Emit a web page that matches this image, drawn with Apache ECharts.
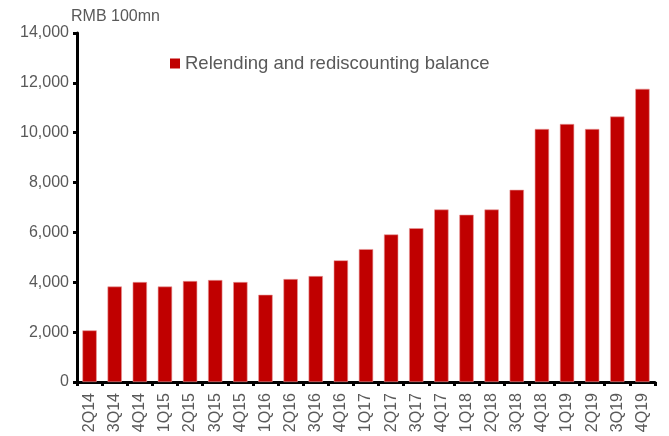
<!DOCTYPE html>
<html>
<head>
<meta charset="utf-8">
<script src="https://cdn.jsdelivr.net/npm/echarts@6/dist/echarts.min.js"></script>
<style>
  html, body { margin: 0; padding: 0; background: #fff; }
  #chart { width: 669px; height: 436px; }
</style>
</head>
<body>
<div id="chart"></div>
<script>
// Quarterly relending and rediscounting balance (RMB 100mn)
const quarters = ['2Q14','3Q14','4Q14','1Q15','2Q15','3Q15','4Q15','1Q16','2Q16','3Q16','4Q16',
  '1Q17','2Q17','3Q17','4Q17','1Q18','2Q18','3Q18','4Q18','1Q19','2Q19','3Q19','4Q19'];
const balance = [2070, 3830, 4010, 3830, 4050, 4090, 4010, 3500, 4130, 4250, 4880,
  5330, 5920, 6170, 6920, 6710, 6920, 7710, 10150, 10350, 10150, 10650, 11760];
const seriesName = 'Relending and rediscounting balance';
const unitLabel = 'RMB 100mn';

const font = 'Liberation Sans, Arial, sans-serif';
const chart = echarts.init(document.getElementById('chart'), null, { renderer: 'canvas' });
chart.setOption({
  animation: false,
  backgroundColor: '#ffffff',
  grid: { left: 77, right: 14, top: 33, bottom: 54 },
  legend: {
    data: [{ name: seriesName, itemStyle: { borderWidth: 0 } }],
    left: 165, top: 49,
    itemWidth: 10, itemHeight: 10, itemGap: 6,
    icon: 'rect',
    textStyle: { fontFamily: font, fontSize: 18.5, color: '#595959' }
  },
  xAxis: {
    type: 'category',
    data: quarters,
    axisLine: { lineStyle: { color: '#000', width: 3 } },
    axisTick: { show: true, length: 4, lineStyle: { color: '#000', width: 3 } },
    axisLabel: { rotate: 90, fontFamily: font, fontSize: 16, color: '#595959', margin: 11 }
  },
  yAxis: {
    type: 'value',
    min: 0, max: 14000, interval: 2000,
    name: unitLabel,
    nameLocation: 'end',
    nameGap: 8,
    nameTextStyle: { fontFamily: font, fontSize: 16, color: '#595959', align: 'left', padding: [0, 0, 0, -6] },
    splitLine: { show: false },
    axisLine: { show: true, lineStyle: { color: '#000', width: 3 } },
    axisTick: { show: true, length: 4, lineStyle: { color: '#000', width: 3 } },
    axisLabel: {
      fontFamily: font, fontSize: 16, color: '#595959', margin: 8,
      formatter: v => v.toLocaleString('en-US')
    }
  },
  series: [{
    name: seriesName,
    type: 'bar',
    data: balance,
    barCategoryGap: '43%',
    itemStyle: { color: '#C00000', borderColor: '#e89a9a', borderWidth: 0.6 }
  }]
});
</script>
</body>
</html>
